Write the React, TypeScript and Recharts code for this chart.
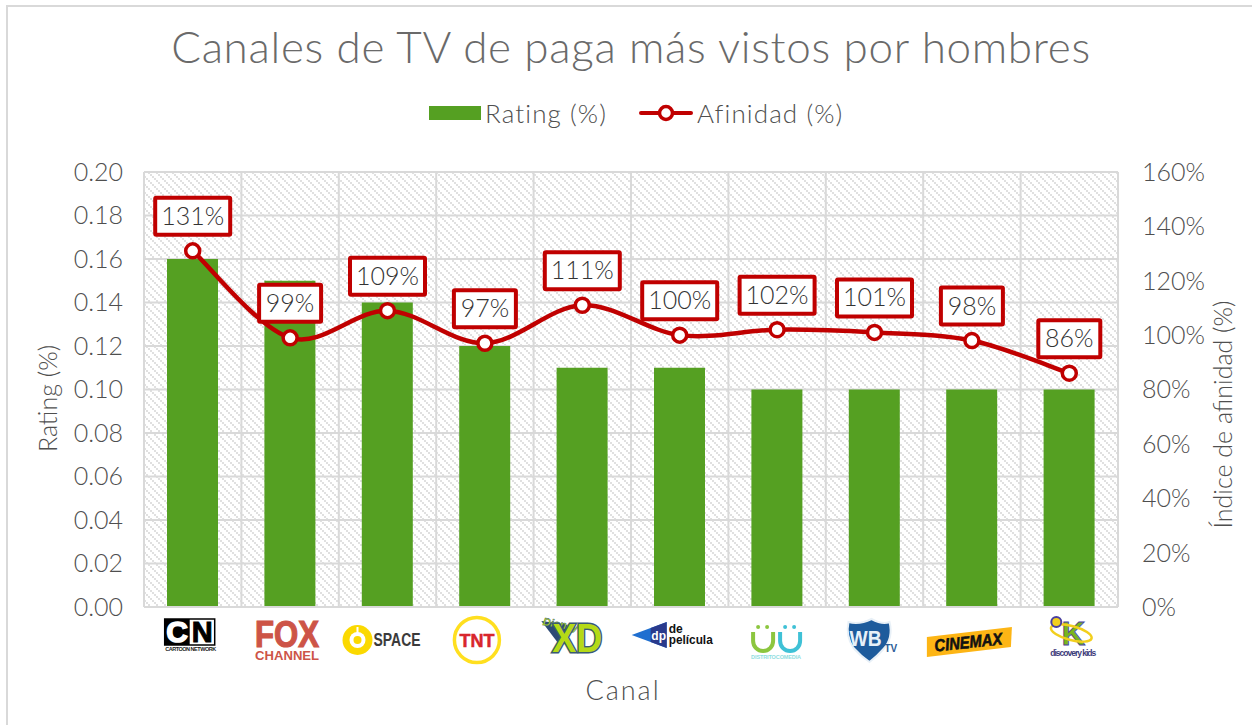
import React from "react";
import {
  ComposedChart,
  Bar,
  Line,
  XAxis,
  YAxis,
  CartesianGrid,
  Legend,
  LabelList,
} from "recharts";

const channels = [
  "Cartoon Network",
  "Fox Channel",
  "Space",
  "TNT",
  "Disney XD",
  "De Película",
  "Distrito Comedia",
  "Warner TV",
  "Cinemax",
  "Discovery Kids",
];
const rating = [0.16, 0.15, 0.14, 0.12, 0.11, 0.11, 0.1, 0.1, 0.1, 0.1];
const afinidad = [131, 99, 109, 97, 111, 100, 102, 101, 98, 86];
const ratingTicks = [0, 0.02, 0.04, 0.06, 0.08, 0.1, 0.12, 0.14, 0.16, 0.18, 0.2];
const afinidadTicks = [0, 20, 40, 60, 80, 100, 120, 140, 160];

const data = channels.map((name, i) => ({
  name,
  rating: rating[i],
  afinidad: afinidad[i],
}));

const FONT = "Lato, 'Noto Sans', sans-serif";
const TEXT = "#4f4f4f";
const GREEN = "#55a022";
const RED = "#c00000";
const GRID = "#d9d9d9";

// same kind of smoothing Excel does on its line charts
function excelSmooth(context: any) {
  let pts: number[][] = [];
  return {
    areaStart() {},
    areaEnd() {},
    lineStart() {
      pts = [];
    },
    point(x: number, y: number) {
      pts.push([+x, +y]);
    },
    lineEnd() {
      pts.forEach((p, i) => {
        if (i === 0) {
          context.moveTo(p[0], p[1]);
          return;
        }
        const p0 = pts[i - 2] || pts[i - 1];
        const p1 = pts[i - 1];
        const p3 = pts[i + 1] || p;
        context.bezierCurveTo(
          p1[0] + (p[0] - p0[0]) / 6,
          p1[1] + (p[1] - p0[1]) / 6,
          p[0] - (p3[0] - p1[0]) / 6,
          p[1] - (p3[1] - p1[1]) / 6,
          p[0],
          p[1]
        );
      });
    },
  };
}

// channel logos, redrawn by hand. origin = centre of the category, 33px under the plot
function Logo({ name }: { name: string }) {
  const bold = { fontFamily: "'Liberation Sans', Arial, sans-serif", fontWeight: 700 };
  switch (name) {
    case "Cartoon Network":
      return (
        <g>
          <rect x={-28} y={-21} width={50} height={26} fill="#fff" stroke="#000" strokeWidth={1.5} />
          <rect x={-28} y={-21} width={25} height={26} fill="#000" />
          <text x={-15.5} y={2} textAnchor="middle" fontSize={30} fontWeight={900} fontFamily="'Liberation Sans'" fill="#fff" stroke="#fff" strokeWidth={1.5}>C</text>
          <text x={9.5} y={2} textAnchor="middle" fontSize={29} fontWeight={900} fontFamily="'Liberation Sans'" fill="#000" stroke="#000" strokeWidth={1}>N</text>
          <text x={-2} y={11} textAnchor="middle" fontSize={5.5} {...bold} fill="#222" textLength={51}>CARTOON NETWORK</text>
        </g>
      );
    case "Fox Channel":
      return (
        <g fill="#cd5447" {...bold}>
          <text x={-35} y={7} fontSize={36} textLength={64} lengthAdjust="spacingAndGlyphs" stroke="#cd5447" strokeWidth={1.2}>FOX</text>
          <text x={-35} y={20} fontSize={13} textLength={64} lengthAdjust="spacingAndGlyphs">CHANNEL</text>
        </g>
      );
    case "Space":
      return (
        <g>
          <circle cx={-30} cy={0} r={15} fill="#fbd900" />
          <circle cx={-30} cy={0} r={8} fill="#fff" />
          <circle cx={-30} cy={0} r={4} fill="#fbd900" />
          <rect x={-31} y={-13} width={2} height={8} fill="#fff" />
          <text x={-14} y={6} fontSize={19} {...bold} fill="#3b3b3b" textLength={47} lengthAdjust="spacingAndGlyphs">SPACE</text>
        </g>
      );
    case "TNT":
      return (
        <g>
          <circle cx={-8} cy={0} r={22.5} fill="#fff" stroke="#ffdf1f" strokeWidth={3.5} />
          <text x={-8} y={6.5} textAnchor="middle" fontSize={18} {...bold} fill="#d8262c" stroke="#d8262c" strokeWidth={0.5}>TNT</text>
        </g>
      );
    case "Disney XD":
      return (
        <g>
          <path d="M-41,-19 L-18,-16 L-8,-12 L-22,6 Z" fill="#2d4a75" />
          <text x={-40} y={-15} fontSize={11} fontStyle="italic" {...bold} fill="#a7d129" stroke="#2d4a75" strokeWidth={0.3} transform="rotate(10 -40 -15)">Disney</text>
          <text
            x={-30}
            y={12}
            fontSize={40}
            {...bold}
            fill="#b5da17"
            stroke="#3b5a72"
            strokeWidth={3}
            style={{ paintOrder: "stroke" }}
            textLength={50}
            lengthAdjust="spacingAndGlyphs"
          >
            XD
          </text>
        </g>
      );
    case "De Película":
      return (
        <g>
          <path d="M-48,-5 L-13,-18 L-13,8 Z" fill="#1f6fd0" />
          <path d="M-13,-18 L-13,8 L-29,2 L-29,-12 Z" fill="#2a3a8c" />
          <text x={-21} y={0} textAnchor="middle" fontSize={12} {...bold} fill="#fff">dp</text>
          <text x={-11} y={-7} fontSize={12} {...bold} fill="#111">de</text>
          <text x={-11} y={4} fontSize={12} {...bold} fill="#111" textLength={44} lengthAdjust="spacingAndGlyphs">película</text>
        </g>
      );
    case "Distrito Comedia":
      return (
        <g>
          <path d="M-24,-8 L-24,1 A10,10 0 0 0 -4,1 L-4,-8" fill="none" stroke="#8cc63f" strokeWidth={4} />
          <path d="M3,-8 L3,1 A10,10 0 0 0 23,1 L23,-8" fill="none" stroke="#3fc1d6" strokeWidth={4} />
          <circle cx={-19} cy={-13} r={2} fill="#8cc63f" />
          <circle cx={-10} cy={-13} r={2} fill="#8cc63f" />
          <circle cx={8} cy={-13} r={2} fill="#3fc1d6" />
          <circle cx={17} cy={-13} r={2} fill="#3fc1d6" />
          <text x={-26} y={19} fontSize={5.5} {...bold} fill="#8fdde0" textLength={50}>DISTRITOCOMEDIA</text>
        </g>
      );
    case "Warner TV":
      return (
        <g>
          <path d="M-26,-18 Q-15,-15 -3,-21 Q8,-15 15,-18 Q19,-2 9,9 Q2,17 -5,22 Q-14,16 -21,8 Q-29,-4 -26,-18 Z" fill="#1d5b9c" stroke="#e8f0f7" strokeWidth={2} />
          <text x={-9} y={6} textAnchor="middle" fontSize={22} {...bold} fill="#e6f0f8" textLength={32} lengthAdjust="spacingAndGlyphs">WB</text>
          <text x={10} y={12} fontSize={10} {...bold} fill="#2b5c96">TV</text>
        </g>
      );
    case "Cinemax":
      return (
        <g>
          <path d="M-45,-3 L40,-13 L39,7 L-45,17 Z" fill="#fdb515" />
          <text x={-3} y={8} textAnchor="middle" fontSize={17} fontStyle="italic" {...bold} fill="#111" stroke="#111" strokeWidth={0.6} textLength={68} lengthAdjust="spacingAndGlyphs" transform="rotate(-6 -3 8)">CINEMAX</text>
        </g>
      );
    default:
      return (
        <g>
          <text x={4} y={5} textAnchor="middle" fontSize={33} {...bold} fill="#7ab51d" stroke="#4a3f9f" strokeWidth={0.8}>K</text>
          <ellipse cx={2} cy={-7} rx={21} ry={7} fill="none" stroke="#f2cf1d" strokeWidth={2.5} transform="rotate(15 2 -7)" />
          <circle cx={-13} cy={-18} r={5} fill="#f2cf1d" stroke="#4a3f9f" strokeWidth={2} />
          <text x={4} y={16} textAnchor="middle" fontSize={8.5} {...bold} fill="#3c3a7a" textLength={46}>discovery kids</text>
        </g>
      );
  }
}

function LogoTick({ x, y, payload }: any) {
  return (
    <g transform={`translate(${x},${y + 25})`}>
      <Logo name={payload.value} />
    </g>
  );
}

function BoxLabel({ x, y, value }: any) {
  const text = `${value}%`;
  const w = text.length > 3 ? 75 : 62;
  return (
    <g>
      <rect x={x - w / 2} y={y - 53} width={w} height={37} fill="#fff" stroke={RED} strokeWidth={4} rx={1} />
      <text x={x} y={y - 26} textAnchor="middle" fontSize={25} fontWeight={300} fontFamily={FONT} fill="#333">
        {text}
      </text>
    </g>
  );
}

function LegendContent({ payload }: any) {
  const lefts = [429, 639];
  return (
    <div style={{ position: "relative", height: 80, fontFamily: FONT, fontSize: 26, fontWeight: 300, letterSpacing: 1.1, color: TEXT }}>
      {(payload || []).map((item: any, i: number) => (
        <div
          key={item.value}
          style={{ position: "absolute", left: lefts[i], top: 0, height: 42, display: "flex", alignItems: "center" }}
        >
          {i === 0 ? (
            <span style={{ width: 52, height: 14, background: item.color, marginRight: 4 }} />
          ) : (
            <svg width={54} height={20} style={{ marginRight: 4 }}>
              <line x1={2} x2={52} y1={10} y2={10} stroke={item.color} strokeWidth={4} strokeLinecap="round" />
              <circle cx={27} cy={10} r={6.5} fill="#fff" stroke={item.color} strokeWidth={3.5} />
            </svg>
          )}
          <span>{item.value}</span>
        </div>
      ))}
    </div>
  );
}

export default function App() {
  return (
    <div
      style={{
        position: "absolute",
        left: 0,
        top: 0,
        width: 1252,
        height: 725,
        background: "#fff",
        boxSizing: "border-box",
        overflow: "hidden",
      }}
    >
      <ComposedChart
        width={1252}
        height={725}
        data={data}
        margin={{ top: 92, right: 0, bottom: 0, left: 0 }}
      >
        <defs>
          <pattern id="hatch" patternUnits="userSpaceOnUse" width={8} height={8}>
            <rect x={0} y={0} width={2} height={2} fill="#e0e0e0" />
            <rect x={2} y={2} width={2} height={2} fill="#e0e0e0" />
            <rect x={4} y={4} width={2} height={2} fill="#e0e0e0" />
            <rect x={6} y={6} width={2} height={2} fill="#e0e0e0" />
          </pattern>
        </defs>
        <path d="M7,725 L7,6 L1252,6" fill="none" stroke={GRID} strokeWidth={2} />
        <text x={631} y={63} textAnchor="middle" fontSize={44} fontWeight={300} letterSpacing={0.68} fontFamily={FONT} fill="#6a6a6a">
          Canales de TV de paga más vistos por hombres
        </text>
        <Legend
          verticalAlign="top"
          itemSorter={null as any}
          content={<LegendContent />}
          wrapperStyle={{ left: 0, width: 1252 }}
        />
        <CartesianGrid
          yAxisId="left"
          stroke={GRID}
          strokeWidth={2}
          fill="url(#hatch)"
          verticalCoordinatesGenerator={({ offset }: any) =>
            channels.map((_, i) => offset.left + (offset.width * i) / channels.length).concat(offset.left + offset.width)
          }
        />
        <XAxis
          dataKey="name"
          height={118}
          interval={0}
          tickLine={false}
          stroke={GRID}
          strokeWidth={2}
          tick={<LogoTick />}
          label={{ value: "Canal", position: "insideBottom", offset: 25, dx: -8, fontSize: 27, fontWeight: 300, letterSpacing: 2, fill: TEXT, fontFamily: FONT }}
        />
        <YAxis
          yAxisId="left"
          width={144}
          domain={[0, 0.2]}
          ticks={ratingTicks}
          tickFormatter={(v: number) => v.toFixed(2)}
          axisLine={false}
          tickLine={false}
          tickMargin={15}
          tick={{ fontSize: 25, fontWeight: 300, fill: TEXT, fontFamily: FONT }}
          label={{ value: "Rating (%)", angle: -90, position: "center", dx: -24, dy: 9, fontSize: 25, fontWeight: 300, fill: TEXT, fontFamily: FONT }}
        />
        <YAxis
          yAxisId="right"
          orientation="right"
          width={134}
          domain={[0, 160]}
          ticks={afinidadTicks}
          tickFormatter={(v: number) => `${v}%`}
          axisLine={false}
          tickLine={false}
          tickMargin={18}
          tick={{ fontSize: 25, fontWeight: 300, fill: TEXT, fontFamily: FONT }}
          label={{ value: "Índice de afinidad (%)", angle: -90, position: "center", dx: 38, dy: 25, fontSize: 25, fontWeight: 300, fill: TEXT, fontFamily: FONT }}
        />
        <Bar yAxisId="left" dataKey="rating" name="Rating (%)" fill={GREEN} barSize={51} isAnimationActive={false} />
        <Line
          yAxisId="right"
          dataKey="afinidad"
          name="Afinidad (%)"
          type={excelSmooth as any}
          stroke={RED}
          strokeWidth={4.5}
          dot={{ r: 7, fill: "#fff", stroke: RED, strokeWidth: 3.5 }}
          isAnimationActive={false}
        >
          <LabelList dataKey="afinidad" content={<BoxLabel />} />
        </Line>
      </ComposedChart>
    </div>
  );
}
